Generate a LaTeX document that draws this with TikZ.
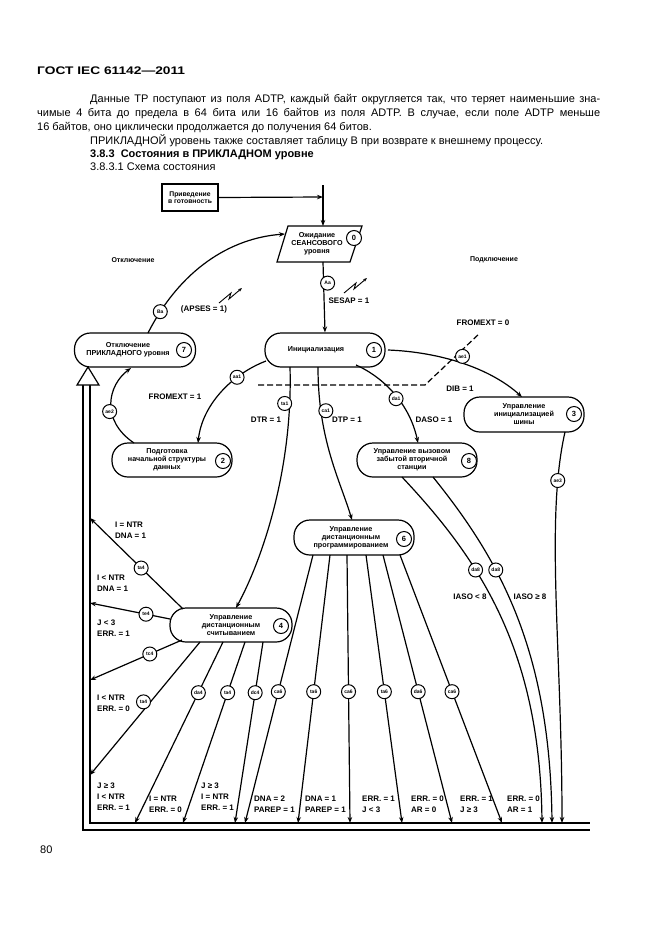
\documentclass[tikz,border=0pt]{standalone}
\usepackage{fontspec}
\setmainfont{Liberation Sans}
\usetikzlibrary{arrows.meta}
\begin{document}
\begin{tikzpicture}[x=1pt,y=-1pt,
  lw/.style={line width=1.2pt},
  arr/.style={lw,-{Stealth[length=6pt,width=4.5pt]}},
  st/.style={draw,lw,rounded corners=16pt,minimum width=120pt,minimum height=34pt,align=center,font=\fontsize{7.2}{8}\selectfont\bfseries,inner sep=1pt},
  num/.style={draw,line width=1pt,circle,fill=white,minimum size=15pt,inner sep=0pt,font=\fontsize{7.5}{7.5}\selectfont\bfseries},
  ev/.style={draw,line width=1pt,circle,fill=white,minimum size=14pt,inner sep=0pt,font=\fontsize{5}{5}\selectfont\bfseries},
  lb/.style={font=\fontsize{8}{11}\selectfont\bfseries,align=left,inner sep=0pt},
  tx/.style={font=\fontsize{11}{12}\selectfont,anchor=base west,inner sep=0pt}]
\useasboundingbox (0,0) rectangle (661,935);
% header and text
\node[tx,font=\fontsize{11}{12}\selectfont\bfseries] (h) at (37,74) {\scalebox{1.25}[1]{ГОСТ IEC 61142—2011}};
\node[tx] (t1) at (90,102) {\makebox[510pt][s]{Данные ТР поступают из поля ADTP, каждый байт округляется так, что теряет наименьшие зна-}};
\node[tx] (t2) at (37,116) {\makebox[563pt][s]{чимые 4 бита до предела в 64 бита или 16 байтов из поля ADTP. В случае, если поле ADTP меньше}};
\node[tx] (t3) at (37,130) {16 байтов, оно циклически продолжается до получения 64 битов.};
\node[tx] (t4) at (90,144) {ПРИКЛАДНОЙ уровень также составляет таблицу В при возврате к внешнему процессу.};
\node[tx,font=\fontsize{11}{12}\selectfont\bfseries] (t5) at (90,157) {3.8.3\ \ Состояния в ПРИКЛАДНОМ уровне};
\node[tx] (t6) at (90,170) {3.8.3.1 Схема состояния};
\node[tx] (pg) at (40,853) {80};

% ready box
\node[draw,lw,minimum width=56pt,minimum height=27pt,align=center,font=\fontsize{6.8}{7.6}\selectfont\bfseries,inner sep=1pt] (rdy) at (190,197.5) {Приведение\\в готовность};
\coordinate (vtop) at (323,185);
\coordinate (vj) at (323,197);
\coordinate (pT) at (323,226);
\draw[arr] (rdy.east) -- (vj);
\draw[arr] (vtop) -- (pT);
% parallelogram
\coordinate (pa) at (288,226); \coordinate (pb) at (362,226);
\coordinate (pc) at (350,262); \coordinate (pd) at (277,262);
\coordinate (pL) at (285,234); \coordinate (pB) at (323,262);
\draw[lw] (pa) -- (pb) -- (pc) -- (pd) -- cycle;
\node[align=center,font=\fontsize{7.2}{8}\selectfont\bfseries] (wt) at (317,244) {Ожидание\\СЕАНСОВОГО\\уровня};
\node[num] (n0) at (354,238) {0};

% states
\node[st] (init) at (325,350) {\hspace*{-18pt}Инициализация};
\node[num] (n1) at (374,350) {1};
\node[st,minimum width=121pt] (s7) at (135,350) {\hspace*{-14pt}Отключение\\\hspace*{-14pt}ПРИКЛАДНОГО уровня};
\node[num] (n7) at (184,350) {7};
\node[st,minimum height=35pt] (s3) at (524,414.5) {Управление\\инициализацией\\шины};
\node[num] (n3) at (574,414) {3};
\node[st] (s8) at (417,460) {\hspace*{-10pt}Управление вызовом\\\hspace*{-10pt}забытой вторичной\\\hspace*{-10pt}станции};
\node[num] (n8) at (469,461) {8};
\node[st] (s2) at (172,460) {\hspace*{-10pt}Подготовка\\\hspace*{-10pt}начальной структуры\\\hspace*{-10pt}данных};
\node[num] (n2) at (223,461) {2};
\node[st,minimum height=35pt] (s6) at (354,537.5) {\hspace*{-6pt}Управление\\\hspace*{-6pt}дистанционным\\\hspace*{-6pt}программированием};
\node[num] (n6) at (404,539) {6};
\node[st,minimum width=122pt] (s4) at (231,625) {Управление\\дистанционным\\считыванием};
\node[num] (n4) at (281,626) {4};

% top connectors
\draw[arr] (pB) -- node[ev,pos=0.3,xshift=4pt] (eAa) {Aa} (init.north);
\node[lb] (lSES) at (349,301) {SESAP = 1};
\coordinate (s7t) at (148,333);
\draw[arr] (s7t) .. controls (180,270) and (230,238) .. node[ev,pos=0.12] (eBa) {Ba} (pL);
\node[lb] (lAPS) at (204,309) {(APSES = 1)};
\draw[line width=0.9pt,-{Stealth[length=4pt]}] (219,303) -- (231,293) -- (229,299) -- (242,288);
\draw[line width=0.9pt,-{Stealth[length=4pt]}] (344,293) -- (356,283) -- (354,289) -- (367,278);
\node[lb] (lOff) at (133,260) {\fontsize{7}{7}\selectfont Отключение};
\node[lb] (lOn) at (494,260) {\fontsize{7}{7}\selectfont Подключение};

% dashed
\coordinate (d1) at (258,385); \coordinate (d2) at (425,385); \coordinate (d3) at (480,333);
\draw[lw,dash pattern=on 6pt off 3pt] (d1) -- (d2) -- (d3);
\node[lb] (lFE0) at (483,323) {FROMEXT = 0};

\coordinate (i1) at (388,350);
\coordinate (s3t) at (522,397);
\draw[arr] (i1) .. controls (440,352) and (490,368) .. node[ev,pos=0.5,yshift=7pt] (eDIB) {ae1} (s3t);
\node[lb] (lDIB) at (460,389) {DIB = 1};

\coordinate (i2) at (266,361);
\coordinate (s2t) at (198,443);
\draw[arr] (i2) .. controls (232,374) and (202,405) .. node[ev,pos=0.3] (eFE1) {aa1} (s2t);
\node[lb] (lFE1) at (175,397) {FROMEXT = 1};

\coordinate (s2l) at (134,443);
\coordinate (s7b) at (131,368);
\draw[arr] (s2l) .. controls (100,420) and (108,385) .. node[ev,pos=0.4,xshift=-2pt] (eae2) {ae2} (s7b);

\coordinate (i3) at (290,367);
\coordinate (s4t) at (236,608);
\draw[arr] (i3) .. controls (293,470) and (262,560) .. node[ev,pos=0.12,xshift=-5pt] (eDTR) {ta1} (s4t);
\node[lb] (lDTR) at (266,420) {DTR = 1};

\coordinate (i4) at (318,367);
\coordinate (s6t) at (352,520);
\draw[arr] (i4) .. controls (318,440) and (340,480) .. node[ev,pos=0.22,xshift=5pt] (eDTP) {ca1} (s6t);
\node[lb] (lDTP) at (347,420) {DTP = 1};

\coordinate (i5) at (356,365);
\coordinate (s8t) at (418,443);
\draw[arr] (i5) .. controls (385,378) and (410,405) .. node[ev,pos=0.55,xshift=-2pt] (eDASO) {da1} (s8t);
\node[lb] (lDASO) at (434,420) {DASO = 1};

% frame
\coordinate (fo1) at (83,385); \coordinate (fo2) at (83,830); \coordinate (fo3) at (590,830);
\coordinate (fi1) at (90,385); \coordinate (fi2) at (90,823); \coordinate (fi3) at (590,823);
\draw[lw] (fo1) -- (fo2) -- (fo3);
\draw[lw] (fi1) -- (fi2) -- (fi3);
\coordinate (trL) at (77,385); \coordinate (trR) at (99,385); \coordinate (trT) at (88,367);
\draw[lw,fill=white] (trL) -- (trR) -- (trT) -- cycle;

% left arrows from s4
\coordinate (L1) at (90,518); \coordinate (L2) at (90,603); \coordinate (L3) at (90,680); \coordinate (L4) at (90,775);
\coordinate (a1) at (183,609); \coordinate (a2) at (170,619); \coordinate (a3) at (182,640); \coordinate (a4) at (200,642);
\draw[arr] (a1) -- node[ev,pos=0.45] (eL1) {ta4} (L1);
\draw[arr] (a2) -- node[ev,pos=0.3] (eL2) {te4} (L2);
\draw[arr] (a3) -- node[ev,pos=0.35] (eL3) {tc4} (L3);
\draw[arr] (a4) -- node[ev,pos=0.45,xshift=-7pt] (eL4) {ta4} (L4);
\node[lb,anchor=north west] (lL1) at (115,522) {I = NTR\\DNA = 1};
\node[lb,anchor=north west] (lL2) at (97,575) {I < NTR\\DNA = 1};
\node[lb,anchor=north west] (lL3) at (97,620) {J < 3\\ERR. = 1};
\node[lb,anchor=north west] (lL4) at (97,695) {I < NTR\\ERR. = 0};
\node[lb,anchor=north west] (lB0) at (97,783) {J ≥ 3\\I < NTR\\ERR. = 1};

% bottom arrows
\foreach \sx/\tx/\nm/\lab in {223/135/b1/da4, 245/183/b2/ta4, 263/235/b3/dc4}{
  \coordinate (\nm s) at (\sx,642); \coordinate (\nm t) at (\tx,823);
  \draw[arr] (\nm s) -- node[ev,pos=0.28] (\nm e) {\lab} (\nm t);
}
\foreach \sx/\tx/\nm/\lab in {313/245/c1/ca6, 330/298/c2/ta6, 347/350/c3/ca6, 366/402/c4/ta6, 383/452/c5/da6, 400/502/c6/ca6}{
  \coordinate (\nm s) at (\sx,555); \coordinate (\nm t) at (\tx,823);
  \draw[arr] (\nm s) -- node[ev,pos=0.51] (\nm e) {\lab} (\nm t);
}
\node[lb,anchor=north west] (lb1) at (149,796) {I = NTR\\ERR. = 0};
\node[lb,anchor=north west] (lb2) at (201,783) {J ≥ 3\\I = NTR\\ERR. = 1};
\node[lb,anchor=north west] (lb3) at (254,796) {DNA = 2\\PAREP = 1};
\node[lb,anchor=north west] (lb4) at (305,796) {DNA = 1\\PAREP = 1};
\node[lb,anchor=north west] (lb5) at (362,796) {ERR. = 1\\J < 3};
\node[lb,anchor=north west] (lb6) at (411,796) {ERR. = 0\\AR = 0};
\node[lb,anchor=north west] (lb7) at (460,796) {ERR. = 1\\J ≥ 3};
\node[lb,anchor=north west] (lb8) at (507,796) {ERR. = 0\\AR = 1};

% right side
\coordinate (r8a) at (402,477); \coordinate (r8at) at (542,823);
\coordinate (r8b) at (433,477); \coordinate (r8bt) at (552,823);
\coordinate (r3) at (565,432); \coordinate (r3t) at (562,823);
\draw[arr] (r8a) .. controls (480,560) and (540,650) .. node[ev,pos=0.35] (eI1) {da8} (r8at);
\draw[arr] (r8b) .. controls (500,560) and (550,650) .. node[ev,pos=0.35] (eI2) {da8} (r8bt);
\draw[arr] (r3) .. controls (545,520) and (562,650) .. node[ev,pos=0.17] (eae3) {ae3} (r3t);
\node[lb] (lI1) at (470,597) {IASO < 8};
\node[lb] (lI2) at (530,597) {IASO ≥ 8};
\end{tikzpicture}
\end{document}
